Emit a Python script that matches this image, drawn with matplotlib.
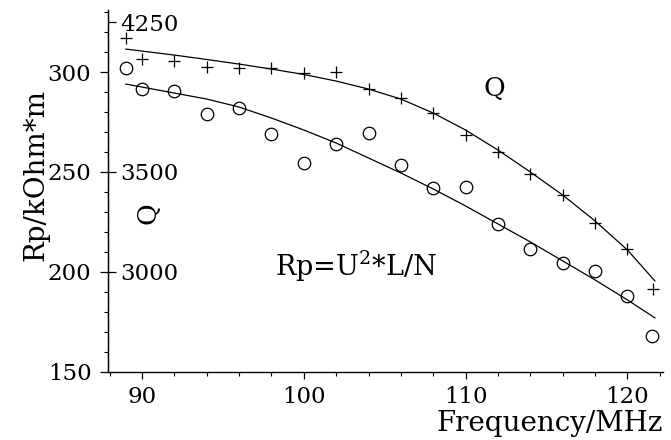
import matplotlib
matplotlib.use("Agg")
import matplotlib.pyplot as plt
from matplotlib.ticker import MultipleLocator, NullLocator

plt.rcParams["font.family"] = ["DejaVu Serif"]
plt.rcParams["mathtext.fontset"] = "dejavuserif"

# measured points: Q (plus) and Rp (circles), left axis units
freq_plus = [89, 90, 92, 94, 96, 98, 100, 102, 104, 106, 108, 110,
             112, 114, 116, 118, 120, 121.6]
rp_plus = [317, 306.5, 305.5, 302.5, 302, 302, 299.5, 300, 291.5, 287,
           279.5, 268.5, 260, 249, 238.5, 224.5, 211.5, 191.5]

freq_circ = [89, 90, 92, 94, 96, 98, 100, 102, 104, 106, 108, 110,
             112, 114, 116, 118, 120, 121.5]
rp_circ = [302, 291.5, 290.5, 279, 282, 269, 254.5, 264, 269.5, 253.5,
           242, 242.5, 224, 211.5, 204.5, 200.5, 188, 168]

# fitted curves
fit_x_upper = [89, 92, 94, 96, 98, 100, 102, 104, 106, 108, 110, 112,
               114, 116, 118, 120, 121.7]
fit_y_upper = [311.5, 308.5, 306.3, 304, 301.5, 298.8, 295.5, 291.5,
               286.5, 279.5, 271, 261, 250, 238.5, 225.5, 211, 195.5]
fit_x_lower = [89, 92, 94, 96, 98, 100, 102, 104, 106, 108, 110, 112,
               114, 116, 118, 120, 121.7]
fit_y_lower = [294, 289.5, 286.5, 282.5, 277, 271, 264.5, 257, 249.5,
               241.5, 233, 224, 215, 205.5, 196, 186, 177]

rp_ticks = [150, 200, 250, 300]
q_ticks = [3000, 3500, 4250]


def rp_to_q(r):
    return 10 * r + 1000


def q_to_rp(q):
    return (q - 1000) / 10


fig = plt.figure(figsize=(6.71, 4.40), dpi=100)
ax = fig.add_axes([0.161, 0.155, 0.827, 0.822])

ax.plot(fit_x_upper, fit_y_upper, color="black", lw=0.9)
ax.plot(fit_x_lower, fit_y_lower, color="black", lw=0.9)
ax.plot(freq_plus, rp_plus, ls="none", marker="+", ms=9, mew=0.9,
        color="black")
ax.plot(freq_circ, rp_circ, ls="none", marker="o", ms=9, mew=0.9,
        mfc="none", mec="black")

ax.set_xlim(87.9, 122.2)
ax.set_ylim(150, 331)
ax.set_xticks([90, 100, 110, 120])
ax.xaxis.set_minor_locator(MultipleLocator(2))
ax.set_yticks(rp_ticks)
ax.yaxis.set_minor_locator(MultipleLocator(10))

for side in ("top", "right"):
    ax.spines[side].set_visible(False)
ax.spines["left"].set_linewidth(1.0)
ax.spines["bottom"].set_linewidth(1.0)

ax.tick_params(axis="both", which="major", direction="out", length=6,
               width=0.9, labelsize=16.5)
ax.tick_params(axis="y", which="major", pad=6)
ax.tick_params(axis="x", which="major", length=5, pad=5)
ax.tick_params(axis="both", which="minor", direction="out", length=3,
               width=0.8)

# Q scale drawn on the inner side of the left spine
sec = ax.secondary_yaxis(0.0, functions=(rp_to_q, q_to_rp))
sec.set_alignment("right")
sec.set_yticks(q_ticks)
sec.yaxis.set_minor_locator(NullLocator())
sec.tick_params(axis="y", direction="out", length=6, width=0.9,
                labelsize=16.5, pad=3)

ax.set_xlabel("Frequency/MHz", fontsize=20, loc="right", labelpad=2)
ax.set_ylabel("Rp/kOhm*m", fontsize=20)
ax.yaxis.set_label_coords(-0.105, 0.545)

ax.text(111.8, 292, "Q", fontsize=19, ha="center", va="center")
ax.text(90.4, 229.5, "Q", fontsize=19, ha="center", va="center",
        rotation=90)
ax.text(98.2, 198, "Rp=U$^2$*L/N", fontsize=19.5, ha="left", va="baseline")

fig.savefig("out.png", dpi=100)
